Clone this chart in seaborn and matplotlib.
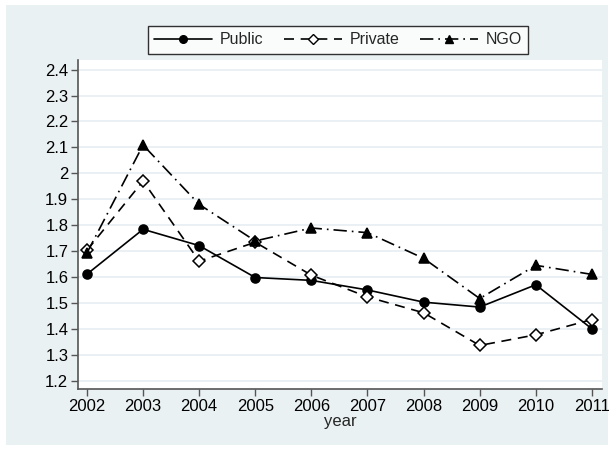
import matplotlib
matplotlib.use("Agg")
import matplotlib.pyplot as plt
from matplotlib.patches import Rectangle
from matplotlib.lines import Line2D
import seaborn as sns
import pandas as pd

years = [2002, 2003, 2004, 2005, 2006, 2007, 2008, 2009, 2010, 2011]
public = [1.611, 1.784, 1.721, 1.598, 1.587, 1.550, 1.503, 1.484, 1.570, 1.400]
private = [1.703, 1.970, 1.661, 1.734, 1.607, 1.523, 1.462, 1.336, 1.377, 1.436]
ngo = [1.693, 2.109, 1.880, 1.739, 1.789, 1.771, 1.672, 1.517, 1.645, 1.610]
ytick_vals = [1.2, 1.3, 1.4, 1.5, 1.6, 1.7, 1.8, 1.9, 2.0, 2.1, 2.2, 2.3, 2.4]
ytick_labels = ["1.2", "1.3", "1.4", "1.5", "1.6", "1.7", "1.8", "1.9", "2",
                "2.1", "2.2", "2.3", "2.4"]
series_names = ["Public", "Private", "NGO"]

sns.set_theme(style="white")
plt.rcParams["font.family"] = ["Liberation Sans", "DejaVu Sans"]

W, H = 611, 449
fig = plt.figure(figsize=(W / 100, H / 100), dpi=100)
fig.patch.set_facecolor("white")
bg = "#EAF1F3"
fig.patches.append(Rectangle((6 / W, 4 / H), (608 - 6) / W, (444 - 4) / H,
                             transform=fig.transFigure, facecolor=bg,
                             edgecolor="none", zorder=-10))

ax = fig.add_axes([78 / W, 1 - 389 / H, (602 - 78) / W, (389 - 60) / H])
ax.set_zorder(1)
ax.set_facecolor("white")

df = pd.DataFrame({"year": years, "Public": public, "Private": private, "NGO": ngo})

styles = {
    "Public": dict(marker="o", linestyle="-", markerfacecolor="black", ms=6.5),
    "Private": dict(marker="D", linestyle=(0, (6, 4)), markerfacecolor="white", ms=6.5),
    "NGO": dict(marker="^", linestyle=(0, (8, 3, 1, 3)), markerfacecolor="black", ms=7),
}

for name in series_names:
    st = styles[name]
    sns.lineplot(data=df, x="year", y=name, ax=ax, color="black", lw=1.2,
                 marker=st["marker"], linestyle=st["linestyle"],
                 markerfacecolor=st["markerfacecolor"], markeredgecolor="black",
                 markersize=st["ms"], markeredgewidth=1.1, zorder=3)

ax.set_xlim(2001.84, 2011.18)
ax.set_ylim(1.168, 2.437)
ax.set_xticks(years)
ax.set_xticklabels([str(y) for y in years], fontsize=12)
ax.set_yticks(ytick_vals)
ax.set_yticklabels(ytick_labels, fontsize=12)
ax.set_xlabel("year", fontsize=12, labelpad=0)
ax.set_ylabel("")

for y in ytick_vals:
    ax.axhline(y, color="#E6EEF1", lw=1.2, zorder=1)

for s in ["top", "right"]:
    ax.spines[s].set_visible(False)
for s in ["left", "bottom"]:
    ax.spines[s].set_color("#555555")
    ax.spines[s].set_linewidth(1.2)
ax.tick_params(axis="both", which="major", direction="out", length=5,
               width=1, color="#555555", pad=2, labelcolor="black",
               left=True, bottom=True)

handles = []
for name in series_names:
    st = styles[name]
    handles.append(Line2D([0], [0], color="black", lw=1.2, linestyle=st["linestyle"],
                          marker=st["marker"], markerfacecolor=st["markerfacecolor"],
                          markeredgecolor="black", markersize=st["ms"] - 1))
leg = fig.legend(handles, series_names, loc="center",
                 bbox_to_anchor=(338 / W, 1 - 40 / H), ncol=3, fontsize=11.5,
                 frameon=True, fancybox=False, edgecolor="black",
                 handlelength=3.6, columnspacing=1.3, handletextpad=0.5,
                 borderpad=0.4, borderaxespad=0)
leg.get_frame().set_linewidth(1.0)
leg.get_frame().set_facecolor("white")

fig.savefig("out.png", dpi=100, facecolor=fig.get_facecolor())
